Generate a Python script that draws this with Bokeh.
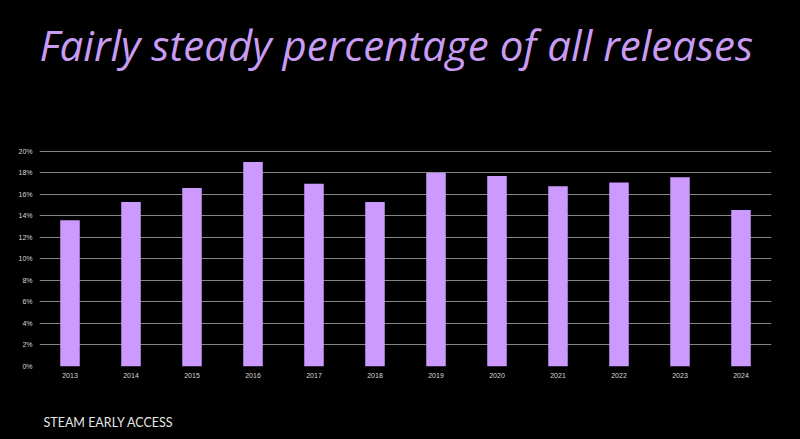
from bokeh.plotting import figure
from bokeh.layouts import column
from bokeh.models import NumeralTickFormatter, FixedTicker
from bokeh.core.properties import value
from bokeh.embed import file_html
from bokeh.resources import INLINE

years = ["2013", "2014", "2015", "2016", "2017", "2018", "2019", "2020", "2021", "2022", "2023", "2024"]
share = [0.136, 0.153, 0.166, 0.190, 0.170, 0.153, 0.180, 0.177, 0.1675, 0.171, 0.176, 0.1455]
y_ticks = [0, 0.02, 0.04, 0.06, 0.08, 0.10, 0.12, 0.14, 0.16, 0.18, 0.20]
title_text = "Fairly steady percentage of all releases"
footer_text = "STEAM EARLY ACCESS"

W = 800
LEFT, RIGHT = 39, 29
TITLE_H, MAIN_H, FOOT_H = 142, 260, 37


def text_panel(height):
    # frames in a column are aligned with the chart's frame, so map x to page pixels
    f = figure(width=W, height=height, x_range=(LEFT, W - RIGHT), y_range=(0, height),
               output_backend="svg", toolbar_location=None,
               x_axis_location=None, y_axis_location=None,
               background_fill_color="black", border_fill_color="black",
               min_border_left=LEFT, min_border_right=RIGHT,
               min_border_top=0, min_border_bottom=0, outline_line_color=None)
    f.grid.visible = False
    return f


# title panel
t = text_panel(TITLE_H)
t.text(x=[39], y=[98], text=[title_text], text_font=value("Open Sans"),
       text_font_style="italic", text_font_size="42px", text_color="#c89cf2",
       text_baseline="alphabetic", text_align="left")

# main chart
p = figure(x_range=years, y_range=(0, 0.2008), width=W, height=MAIN_H,
           output_backend="svg", toolbar_location=None,
           background_fill_color="black", border_fill_color="black",
           min_border_left=LEFT, min_border_right=RIGHT, min_border_top=8, min_border_bottom=36)
p.outline_line_color = None
p.vbar(x=years, top=share, width=0.32, color="#cc99ff", line_color=None)

p.yaxis.ticker = FixedTicker(ticks=y_ticks)
p.yaxis.formatter = NumeralTickFormatter(format="0%")
for ax in (p.xaxis, p.yaxis):
    ax.axis_line_color = None
    ax.major_tick_line_color = None
    ax.minor_tick_line_color = None
    ax.major_tick_out = 0
    ax.major_tick_in = 0
    ax.minor_tick_out = 0
    ax.major_label_text_color = "#d8d8d8"
    ax.major_label_text_font = "Liberation Sans"
    ax.major_label_text_font_size = "7px"
p.yaxis.major_label_standoff = 7
p.xaxis.major_label_standoff = 6
p.xgrid.grid_line_color = None
p.ygrid.grid_line_color = "#858585"
p.ygrid.grid_line_width = 1
p.x_range.range_padding = 0

# footer panel
f = text_panel(FOOT_H)
f.text(x=[43], y=[17], text=[footer_text],
       text_font=value("Lato"), text_font_size="12.5px", text_color="#e6e6e6",
       text_baseline="alphabetic", text_align="left")

layout = column(t, p, f, spacing=0)
html = file_html(layout, INLINE)
html = html.replace("</head>", "<style>html,body{margin:0;padding:0;background:#000;overflow:hidden;}</style></head>", 1)
open("out.html", "w").write(html)
